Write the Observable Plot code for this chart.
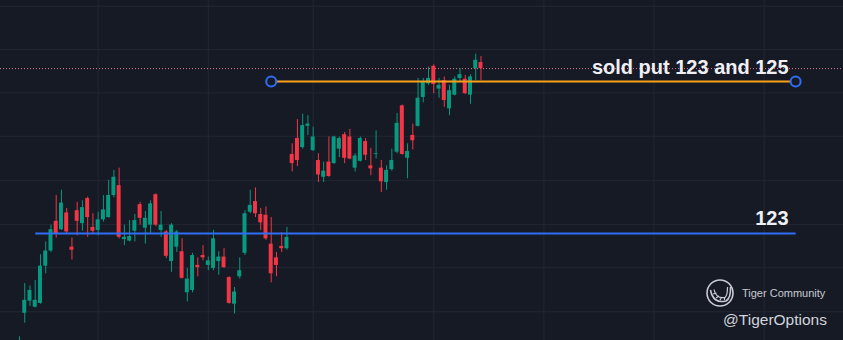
<!DOCTYPE html>
<html><head><meta charset="utf-8">
<script src="https://cdn.jsdelivr.net/npm/d3@7"></script>
<script src="https://cdn.jsdelivr.net/npm/@observablehq/plot@0.6"></script>
<style>
html,body{margin:0;padding:0;background:#161a25;overflow:hidden}
#chart{position:relative;width:843px;height:340px}
</style>
</head><body><div id="chart"></div>
<script>
// Bar index 0..88 (daily candles)
const opens = [121.40,121.95,122.11,122.03,122.08,122.57,122.77,123.16,123.05,123.27,122.82,123.30,123.13,123.46,123.08,123.04,123.18,123.21,123.50,123.63,122.92,122.90,123.03,123.38,123.07,123.11,123.51,123.04,123.02,122.63,122.82,122.76,122.22,122.25,122.58,122.71,122.58,122.54,122.63,122.69,122.42,122.07,122.43,122.74,123.28,123.42,123.25,123.24,122.86,122.68,122.83,122.80,124.04,124.25,124.13,124.41,124.09,123.96,123.74,123.94,123.92,124.11,124.30,124.27,123.86,123.95,124.21,123.89,124.04,123.86,123.67,123.84,124.07,124.68,123.99,124.29,124.41,124.79,124.97,125.20,124.90,125.01,124.64,124.82,125.04,125.03,124.82,125.17,125.25];
const highs = [121.64,122.34,122.31,122.38,122.72,122.89,123.11,123.50,123.57,123.33,122.94,123.41,123.43,123.48,123.26,123.28,123.50,123.70,123.83,123.86,123.11,123.17,123.25,123.41,123.29,123.43,123.52,123.29,123.04,123.13,123.04,122.93,122.54,122.74,122.68,122.84,122.69,123.04,122.76,122.80,122.43,122.29,122.68,123.30,123.57,123.60,123.33,123.35,123.21,122.75,123.01,123.08,124.18,124.50,124.57,124.55,124.40,124.05,123.94,124.27,124.28,124.27,124.33,124.37,124.05,124.27,124.25,124.12,124.35,123.96,123.89,124.11,124.58,124.69,124.18,124.44,125.04,125.04,125.19,125.22,125.04,125.06,124.95,125.06,125.17,125.08,125.09,125.36,125.33];
const lows = [121.35,121.82,122.04,122.02,122.07,122.47,122.75,122.94,123.04,123.00,122.65,122.97,123.03,122.95,123.00,122.97,123.15,123.20,123.47,122.93,122.84,122.89,122.89,123.11,122.86,123.00,123.09,122.95,122.67,122.49,122.75,122.40,122.10,122.22,122.43,122.64,122.51,122.51,122.45,122.54,122.07,121.94,122.40,122.71,123.26,123.21,123.04,122.91,122.35,122.43,122.75,122.78,123.81,123.88,124.11,124.29,124.08,123.67,123.67,123.74,123.91,124.00,123.92,123.97,123.81,123.94,123.96,123.76,123.98,123.54,123.57,123.82,124.05,124.03,123.72,124.10,124.40,124.72,124.95,124.84,124.78,124.66,124.55,124.81,124.99,124.83,124.70,125.01,125.01];
const closes = [121.53,122.12,122.25,122.12,122.57,122.77,123.05,123.00,123.40,123.02,122.78,123.16,123.34,123.21,123.03,123.18,123.31,123.50,123.74,122.95,122.95,122.96,123.17,123.20,123.20,123.39,123.11,123.11,122.70,123.11,123.02,122.41,122.40,122.71,122.55,122.68,122.64,122.93,122.69,122.55,122.08,122.23,122.51,123.26,123.37,123.26,123.14,122.93,122.47,122.58,122.80,122.95,123.92,123.96,124.42,124.44,124.27,123.77,123.82,123.75,124.27,124.25,123.99,123.98,124.02,124.25,124.03,123.85,124.05,123.68,123.83,123.96,124.45,124.04,124.08,124.22,124.78,124.99,125.04,124.96,124.95,124.75,124.88,125.03,125.09,124.84,125.06,125.28,125.17];

// Grid positions
const priceGrid = [125.99,125.42,124.85,124.28,123.70,123.12,122.55,121.97];
const timeGrid = [15,36,56,79,100,121,142];

// Horizontal drawings
const levelValues = [125, 123];
const levelStarts = [48, 3];
const levelEnds = [148, 148];
const levelLabels = ["sold put 123 and 125", "123"];

const BG = "#161a25", GRID = "#232734", UP = "#089981", DOWN = "#f23645";
const ORANGE = "#f9a11b", BLUE = "#2f6df5";

const candles = opens.map((o, i) => ({i, o, h: highs[i], l: lows[i], c: closes[i]}));
const levels = levelValues.map((v, k) => ({v, s: levelStarts[k], e: levelEnds[k], label: levelLabels[k]}));
const lastClose = closes[closes.length - 1];
const col = d => d.c >= d.o ? UP : DOWN;

const plot = Plot.plot({
  width: 843, height: 340,
  marginTop: 0, marginRight: 0, marginBottom: 0, marginLeft: 0,
  x: {domain: [-3.623, 157.13], axis: null},
  y: {domain: [121.592, 126.066], axis: null},
  style: {background: BG, overflow: "hidden"},
  marks: [
    Plot.ruleY(priceGrid, {stroke: GRID, strokeWidth: 1}),
    Plot.ruleX(timeGrid, {stroke: GRID, strokeWidth: 1}),
    Plot.ruleY([lastClose], {stroke: "#e2788c", strokeDasharray: "1,2", strokeWidth: 1}),
    Plot.ruleX(candles, {x: "i", y1: "l", y2: "h", stroke: col, strokeWidth: 1, clip: true}),
    Plot.rect(candles, {
      x1: d => d.i - 0.38, x2: d => d.i + 0.38,
      y1: d => Math.min(d.o, d.c), y2: d => Math.max(d.o, d.c),
      fill: col, clip: true
    }),
    Plot.link([levels[1]], {x1: "s", x2: "e", y1: "v", y2: "v", stroke: BLUE, strokeWidth: 2}),
    Plot.link([levels[0]], {x1: "s", x2: "e", y1: "v", y2: "v", stroke: ORANGE, strokeWidth: 2}),
    Plot.dot([levels[0]].flatMap(d => [{x: d.s, y: d.v}, {x: d.e, y: d.v}]), {x: "x", y: "y", r: 5, stroke: BLUE, strokeWidth: 2, fill: BG}),
    Plot.text(levels, {
      x: "e", y: "v", text: "label", textAnchor: "end", lineAnchor: "bottom",
      dx: -7, dy: -8, fill: "#eef0f5", fontSize: 20, fontWeight: "bold",
      fontFamily: "Liberation Sans, Arial, sans-serif"
    })
  ]
});
document.getElementById("chart").appendChild(plot);

// watermark
const svg = d3.select(plot);
const wm = svg.append("g").attr("fill", "none").attr("stroke", "#c8cbd2");
wm.append("circle").attr("cx", 720).attr("cy", 293).attr("r", 13).attr("stroke-width", 1.6);
wm.append("path").attr("d", "M710.5,290 Q713,304 726,301 Q731,298 730.5,287").attr("stroke-width", 1.6);
wm.append("path").attr("d", "M714,289.5 Q716,299 725,297.5 Q727.5,295.5 727.5,287").attr("stroke-width", 1.2);
[[713,294,716.5,293],[716,298,719,296],[720,300,721.5,297.5],[724.5,300,724.5,297.5]].forEach(p =>
  wm.append("line").attr("x1", p[0]).attr("y1", p[1]).attr("x2", p[2]).attr("y2", p[3]).attr("stroke-width", 1.2));
svg.append("text").attr("x", 742).attr("y", 297).attr("text-anchor", "start").attr("fill", "#c8cbd2")
  .attr("font-family", "Liberation Sans, Arial, sans-serif").attr("font-size", 11).text("Tiger Community");
svg.append("text").attr("x", 827).attr("y", 325).attr("text-anchor", "end").attr("fill", "#d1d4dc")
  .attr("font-family", "Liberation Sans, Arial, sans-serif").attr("font-size", 15.5).text("@TigerOptions");
</script>
</body></html>
